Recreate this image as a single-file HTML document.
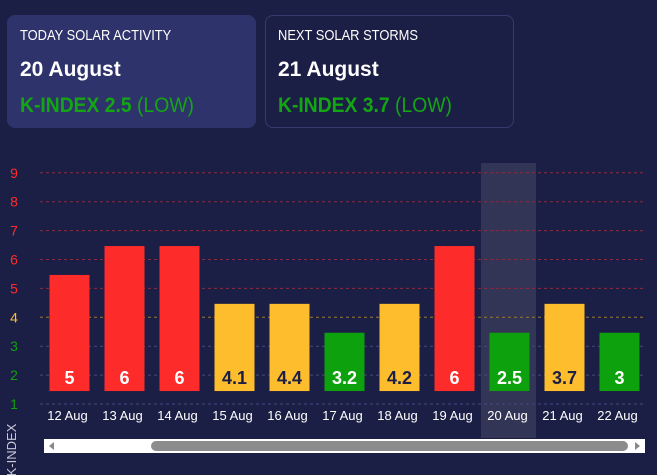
<!DOCTYPE html>
<html><head><meta charset="utf-8"><style>
body{margin:0;width:657px;height:475px;background:#1c1f45;font-family:"Liberation Sans",sans-serif;overflow:hidden;position:relative;color:#fff}
.card{position:absolute;top:15px;height:113px;width:249px;border-radius:8px;box-sizing:border-box;padding:11px 13px}
.t{font-size:15px;margin-top:1px;display:inline-block;transform:scaleX(0.86);transform-origin:left;white-space:nowrap}
.d{font-size:21px;font-weight:bold;margin-top:13px}
.k{font-size:21px;margin-top:12px;color:#13a513;transform:scaleX(0.92);transform-origin:left;white-space:nowrap}
.k b{font-weight:bold}
</style></head><body>
<div class="card" style="left:7px;background:#2e336b">
<div class="t">TODAY SOLAR ACTIVITY</div>
<div class="d">20 August</div>
<div class="k"><b>K-INDEX 2.5</b> (LOW)</div>
</div>
<div class="card" style="left:265px;border:1px solid #363a70;padding:10px 12px">
<div class="t">NEXT SOLAR STORMS</div>
<div class="d">21 August</div>
<div class="k"><b>K-INDEX 3.7</b> (LOW)</div>
</div>
<svg id="c" width="657" height="475" style="position:absolute;left:0;top:0"></svg>
<script>
const categories=["12 Aug","13 Aug","14 Aug","15 Aug","16 Aug","17 Aug","18 Aug","19 Aug","20 Aug","21 Aug","22 Aug"];
const values=[5,6,6,4.1,4.4,3.2,4.2,6,2.5,3.7,3];
const valueLabels=["5","6","6","4.1","4.4","3.2","4.2","6","2.5","3.7","3"];
const yTicks=[1,2,3,4,5,6,7,8,9];
const highlightIndex=8;
const svg=document.getElementById('c');
const NS='http://www.w3.org/2000/svg';
const x0=40,colW=55;
const xc=i=>x0+colW*i+colW/2+2;
const y=v=>404-(v-1)*28.9;
function mk(t,a,p){const e=document.createElementNS(NS,t);for(const k in a)e.setAttribute(k,a[k]);(p||svg).appendChild(e);return e;}
function col(l){return l<=3?'#0ea10e':(l==4?'#fdbd2c':'#fe2b2b');}
function tcol(v){return v<=3?'#0ea10e':(v<=4?'#fdbd2c':'#fe2b2b');}
const hl=mk('rect',{x:x0+colW*highlightIndex+1,y:163,width:colW,height:275,fill:'#ffffff',opacity:0.1});


yTicks.forEach(v=>{
 const ln=mk('line',{x1:x0,x2:645,y1:y(v),y2:y(v),stroke:v>=5?'#8a2b3f':(v==4?'#9a7a2a':'#454a7a'),'stroke-dasharray':'3,3','stroke-width':1});
 
 
 const t=mk('text',{x:14,y:y(v)+5,'font-size':14,fill:tcol(v),'text-anchor':'middle'});
 t.textContent=v;
 
 
});
values.forEach((v,i)=>{
 const lvl=Math.round(v);
 const top=y(lvl+0.5)+1,bot=y(1.5)+1.5;
 const r=mk('rect',{x:xc(i)-20,y:top,width:40,height:bot-top,fill:col(lvl)});
 
 
 const t=mk('text',{x:xc(i),y:bot-7,'font-size':18,'font-weight':'bold',fill:lvl==4?'#1c1f45':'#fff','text-anchor':'middle'});
 t.textContent=valueLabels[i];
 
 
 const c=mk('text',{x:xc(i)-2,y:420,'font-size':13,fill:'#fff','text-anchor':'middle'});
 c.textContent=categories[i];
 
 
});
const sb=mk('rect',{x:44,y:439,width:601,height:14,fill:'#fff'});


const th=mk('rect',{x:151,y:441,width:477,height:10,rx:5,fill:'#8c8c8c'});


const a1=mk('path',{d:'M49 446 L54 442 L54 450 Z',fill:'#888'});


const a2=mk('path',{d:'M640 446 L635 442 L635 450 Z',fill:'#888'});


const yt=mk('text',{x:0,y:0,'font-size':13,fill:'#c8c8d8','text-anchor':'middle',transform:'translate(16,450) rotate(-90)'});
yt.textContent='K-INDEX';


</script>
</body></html>
